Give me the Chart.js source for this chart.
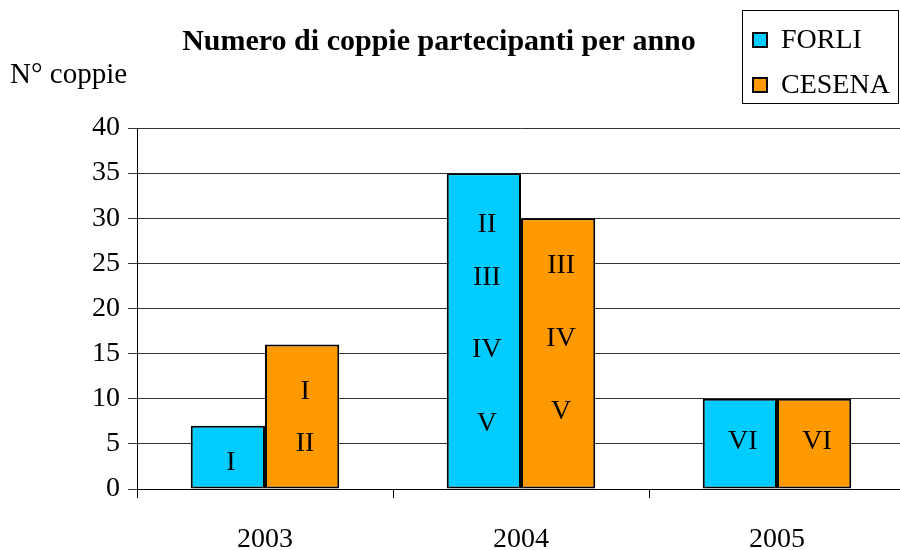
<!DOCTYPE html>
<html>
<head>
<meta charset="utf-8">
<script src="https://cdn.jsdelivr.net/npm/chart.js@4.4.1/dist/chart.umd.min.js"></script>
<style>
  html, body { margin: 0; padding: 0; background: #fff; overflow: hidden; }
  #wrap { width: 910px; height: 550px; }
</style>
</head>
<body>
<div id="wrap"><canvas id="c" width="910" height="550"></canvas></div>
<script>
// ---- data ----
const years = ['2003', '2004', '2005'];
const forli = [7, 35, 10];
const cesena = [16, 30, 10];
const seriesNames = ['FORLI', 'CESENA'];
const yTicks = [0, 5, 10, 15, 20, 25, 30, 35, 40];
const chartTitle = 'Numero di coppie partecipanti per anno';
const yTitle = 'N° coppie';
// roman-numeral marks inside the bars, with the value level where each sits
const forliMarks = [['I'], ['II', 'III', 'IV', 'V'], ['VI']];
const forliMarkAt = [[2.9], [29.3, 23.4, 15.4, 7.2], [5.3]];
const cesenaMarks = [['I', 'II'], ['III', 'IV', 'V'], ['VI']];
const cesenaMarkAt = [[10.8, 5.0], [24.8, 16.7, 8.6], [5.3]];

const colors = ['#00CCFF', '#FF9900'];
const FONT = '"Liberation Serif", "Times New Roman", serif';

const overlay = {
  id: 'overlay',
  afterDatasetsDraw(chart) {
    const ctx = chart.ctx;
    const ys = chart.scales.y;
    ctx.save();
    ctx.fillStyle = '#000';
    ctx.font = '28px ' + FONT;
    ctx.textAlign = 'center';
    ctx.textBaseline = 'middle';
    const sets = [[forliMarks, forliMarkAt], [cesenaMarks, cesenaMarkAt]];
    sets.forEach(([marks, at], di) => {
      const meta = chart.getDatasetMeta(di);
      marks.forEach((list, i) => {
        const bar = meta.data[i];
        list.forEach((txt, k) => {
          ctx.fillText(txt, bar.x + 3, ys.getPixelForValue(at[i][k]));
        });
      });
    });
    ctx.restore();
  },
  afterDraw(chart) {
    const ctx = chart.ctx;
    ctx.save();
    // title
    ctx.fillStyle = '#000';
    ctx.font = 'bold 30px ' + FONT;
    ctx.textAlign = 'center';
    ctx.textBaseline = 'middle';
    ctx.fillText(chartTitle, 439, 42);
    // y title
    ctx.font = '29px ' + FONT;
    ctx.textAlign = 'left';
    ctx.fillText(yTitle, 10, 75);
    // legend box
    ctx.font = '28px ' + FONT;
    ctx.strokeStyle = '#000';
    ctx.lineWidth = 1;
    ctx.strokeRect(742.5, 10.5, 156, 93);
    seriesNames.forEach((name, i) => {
      const cy = 40 + i * 45;
      ctx.fillStyle = colors[i];
      ctx.fillRect(753, cy - 7, 14, 14);
      ctx.lineWidth = 2;
      ctx.strokeStyle = '#000';
      ctx.strokeRect(753, cy - 7, 14, 14);
      ctx.fillStyle = '#000';
      ctx.fillText(name, 781, cy + 1);
    });
    ctx.restore();
  }
};

new Chart(document.getElementById('c'), {
  type: 'bar',
  data: {
    labels: years,
    datasets: seriesNames.map((name, i) => ({
      label: name,
      data: i === 0 ? forli : cesena,
      backgroundColor: colors[i],
      borderColor: '#000',
      borderWidth: 2,
      borderSkipped: false,
      barPercentage: 1,
      categoryPercentage: 0.58
    }))
  },
  options: {
    responsive: false,
    animation: false,
    devicePixelRatio: 1,
    layout: { padding: { left: 0, right: 5, top: 128, bottom: 0 } },
    plugins: { legend: { display: false }, title: { display: false }, tooltip: { enabled: false } },
    scales: {
      x: {
        offset: true,
        grid: { display: true, offset: true, drawOnChartArea: false, drawTicks: true, tickLength: 9, color: '#000', lineWidth: 1 },
        border: { display: true, color: '#000', width: 1 },
        ticks: { color: '#000', font: { family: FONT, size: 28 }, padding: 25, maxRotation: 0 },
        afterFit(s) { s.height = 61; }
      },
      y: {
        min: 0, max: 40,
        afterBuildTicks(s) { s.ticks = yTicks.map(v => ({ value: v })); },
        grid: { color: '#333', lineWidth: 1, tickLength: 9, drawTicks: true },
        border: { display: true, color: '#000', width: 1 },
        ticks: { color: '#000', font: { family: FONT, size: 28 }, padding: 8 },
        afterFit(s) { s.width = 137; }
      }
    }
  },
  plugins: [overlay]
});
</script>
</body>
</html>
